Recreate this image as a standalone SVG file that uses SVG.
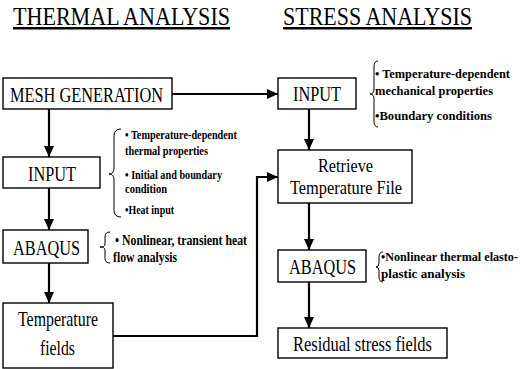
<svg xmlns="http://www.w3.org/2000/svg" width="523" height="369" viewBox="0 0 523 369">
<defs>
<marker id="ah" markerUnits="userSpaceOnUse" markerWidth="11" markerHeight="10" refX="11" refY="5" orient="auto">
<path d="M0,0 L11,5 L0,10 z" fill="#000"/>
</marker>
<style>
.box{fill:#fff;stroke:#000;stroke-width:1.4}
.lbl{font-family:"Liberation Serif","Times New Roman",serif;font-size:21px;fill:#000}
.lbl2{font-size:19px}
.title{font-family:"Liberation Serif","Times New Roman",serif;font-size:25px;fill:#000;text-decoration:underline}
.note{font-family:"Liberation Serif","Times New Roman",serif;font-size:14px;font-weight:bold;fill:#000}
.sm{font-size:12px}
.md{font-size:13px}
.brace{fill:none;stroke:#000;stroke-width:1}
.conn{fill:none;stroke:#000;stroke-width:2.2}
</style>
</defs>
<rect width="523" height="369" fill="#fff"/>
<g id="titles">
<text class="title" x="13" y="25" textLength="217" lengthAdjust="spacingAndGlyphs">THERMAL ANALYSIS</text>
<text class="title" x="283" y="25" textLength="189" lengthAdjust="spacingAndGlyphs">STRESS ANALYSIS</text>
</g>
<g id="connectors">
<line class="conn" x1="172" y1="94" x2="278" y2="94" marker-end="url(#ah)"/>
<line class="conn" x1="49" y1="109" x2="49" y2="157" marker-end="url(#ah)"/>
<line class="conn" x1="49" y1="188" x2="49" y2="230" marker-end="url(#ah)"/>
<line class="conn" x1="49" y1="263" x2="49" y2="303" marker-end="url(#ah)"/>
<path class="conn" d="M113,336 H257 V177 H278" marker-end="url(#ah)"/>
<line class="conn" x1="309" y1="109" x2="309" y2="150" marker-end="url(#ah)"/>
<line class="conn" x1="309" y1="203" x2="309" y2="250" marker-end="url(#ah)"/>
<line class="conn" x1="309" y1="282" x2="309" y2="328" marker-end="url(#ah)"/>
</g>
<g id="mesh">
<rect class="box" x="3" y="78" width="169" height="31"/>
<text class="lbl" x="10" y="101.5" textLength="153" lengthAdjust="spacingAndGlyphs">MESH GENERATION</text>
</g>
<g id="input-thermal">
<rect class="box" x="3" y="157" width="97" height="31"/>
<text class="lbl" x="28" y="180.5" textLength="48" lengthAdjust="spacingAndGlyphs">INPUT</text>
</g>
<g id="abaqus-thermal">
<rect class="box" x="3" y="230" width="85" height="33"/>
<text class="lbl" x="13" y="255" textLength="67" lengthAdjust="spacingAndGlyphs">ABAQUS</text>
</g>
<g id="temperature-fields">
<rect class="box" x="3" y="303" width="110" height="65"/>
<text class="lbl" x="18" y="326" textLength="80" lengthAdjust="spacingAndGlyphs">Temperature</text>
<text class="lbl" x="40" y="355" textLength="35" lengthAdjust="spacingAndGlyphs">fields</text>
</g>
<g id="input-stress">
<rect class="box" x="278" y="78" width="78" height="31"/>
<text class="lbl" x="293" y="101" textLength="48" lengthAdjust="spacingAndGlyphs">INPUT</text>
</g>
<g id="retrieve">
<rect class="box" x="278" y="150" width="134" height="53"/>
<text class="lbl lbl2" x="318" y="172" textLength="55" lengthAdjust="spacingAndGlyphs">Retrieve</text>
<text class="lbl lbl2" x="290" y="193.5" textLength="112" lengthAdjust="spacingAndGlyphs">Temperature File</text>
</g>
<g id="abaqus-stress">
<rect class="box" x="278" y="250" width="88" height="32"/>
<text class="lbl" x="289" y="274" textLength="67" lengthAdjust="spacingAndGlyphs">ABAQUS</text>
</g>
<g id="residual">
<rect class="box" x="278" y="328" width="169" height="30"/>
<text class="lbl" x="293" y="350.5" textLength="139" lengthAdjust="spacingAndGlyphs">Residual stress fields</text>
</g>
<g id="notes-input-thermal">
<path class="brace" d="M121,129 Q114,129 114,136 L114,168 Q114,174 109,174 Q114,174 114,180 L114,210 Q114,217 121,217"/>
<text class="note sm" x="125" y="139" textLength="112" lengthAdjust="spacingAndGlyphs">• Temperature-dependent</text>
<text class="note sm" x="125" y="155" textLength="83" lengthAdjust="spacingAndGlyphs">thermal properties</text>
<text class="note sm" x="125" y="179" textLength="97" lengthAdjust="spacingAndGlyphs">• Initial and boundary</text>
<text class="note sm" x="125" y="193" textLength="42" lengthAdjust="spacingAndGlyphs">condition</text>
<text class="note sm" x="125" y="214" textLength="49" lengthAdjust="spacingAndGlyphs">•Heat input</text>
</g>
<g id="notes-abaqus-thermal">
<path class="brace" d="M110,232 Q105,232 105,237 L105,244 Q105,247 100,247 Q105,247 105,250 L105,258 Q105,263 110,263"/>
<text class="note" x="115" y="245" textLength="132" lengthAdjust="spacingAndGlyphs">• Nonlinear, transient heat</text>
<text class="note" x="113" y="262" textLength="64" lengthAdjust="spacingAndGlyphs">flow analysis</text>
</g>
<g id="notes-input-stress">
<path class="brace" d="M378,61 Q374,61 374,67 L374,89 Q374,94 370,94 Q374,94 374,99 L374,121 Q374,127 378,127"/>
<text class="note md" x="375" y="78" textLength="135" lengthAdjust="spacingAndGlyphs">• Temperature-dependent</text>
<text class="note md" x="375" y="95" textLength="118" lengthAdjust="spacingAndGlyphs">mechanical properties</text>
<text class="note md" x="375" y="120" textLength="117" lengthAdjust="spacingAndGlyphs">•Boundary conditions</text>
</g>
<g id="notes-abaqus-stress">
<path class="brace" d="M383,252 Q379,252 379,257 L379,263 Q379,267 376,267 Q379,267 379,271 L379,277 Q379,282 383,282"/>
<text class="note sm" x="381" y="261" textLength="137" lengthAdjust="spacingAndGlyphs">•Nonlinear thermal elasto-</text>
<text class="note sm" x="381" y="278" textLength="84" lengthAdjust="spacingAndGlyphs">plastic analysis</text>
</g>
</svg>
